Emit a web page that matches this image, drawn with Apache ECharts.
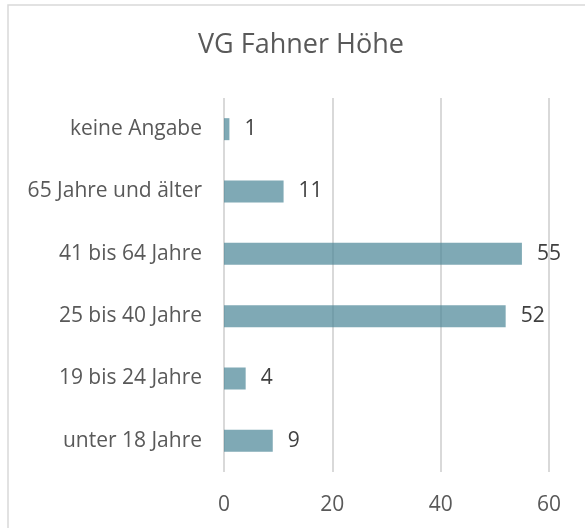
<!DOCTYPE html>
<html style="height: 100%;">
<head>
<meta charset="utf-8">
<title>VG Fahner Höhe</title>
<script src="https://cdn.jsdelivr.net/npm/echarts@6/dist/echarts.min.js"></script>
</head>
<body style="height: 100%; margin: 0; background: #fff;">
<div id="container" style="width: 585px; height: 528px;"></div>
<script type="text/javascript">
// Altersgruppen von oben nach unten
var categories = ['keine Angabe', '65 Jahre und älter', '41 bis 64 Jahre', '25 bis 40 Jahre', '19 bis 24 Jahre', 'unter 18 Jahre'];
var values = [1, 11, 55, 52, 4, 9];
var xTicks = [0, 20, 40, 60];

var myChart = echarts.init(document.getElementById('container'));
var font = '"Open Sans", sans-serif';

var option = {
    animation: false,
    title: {
        text: 'VG Fahner Höhe',
        left: 193,
        top: 27,
        textStyle: { fontFamily: font, fontSize: 27, fontWeight: 'normal', color: '#595959' }
    },
    graphic: [{
        type: 'rect',
        shape: { x: 8, y: 5, width: 620, height: 600 },
        style: { fill: 'none', stroke: '#d9d9d9', lineWidth: 1.5 },
        silent: true
    }],
    grid: { left: 224, right: 36, top: 98, bottom: 56 },
    xAxis: {
        type: 'value',
        min: xTicks[0],
        max: xTicks[xTicks.length - 1],
        interval: 20,
        axisLine: { show: false },
        axisTick: { show: false },
        axisLabel: { fontFamily: font, fontSize: 21, color: '#595959', margin: 23 },
        splitLine: { show: true, lineStyle: { color: '#d9d9d9', width: 2 } }
    },
    yAxis: {
        type: 'category',
        inverse: true,
        data: categories,
        axisLine: { show: false },
        axisTick: { show: false },
        axisLabel: { fontFamily: font, fontSize: 21, color: '#595959', margin: 22 }
    },
    series: [{
        type: 'bar',
        data: values,
        barWidth: 22,
        itemStyle: { color: 'rgba(72,132,149,0.7)' },
        label: {
            show: true,
            position: 'right',
            distance: 15,
            fontFamily: font,
            fontSize: 21,
            color: '#404040'
        }
    }]
};
myChart.setOption(option);
</script>
</body>
</html>
